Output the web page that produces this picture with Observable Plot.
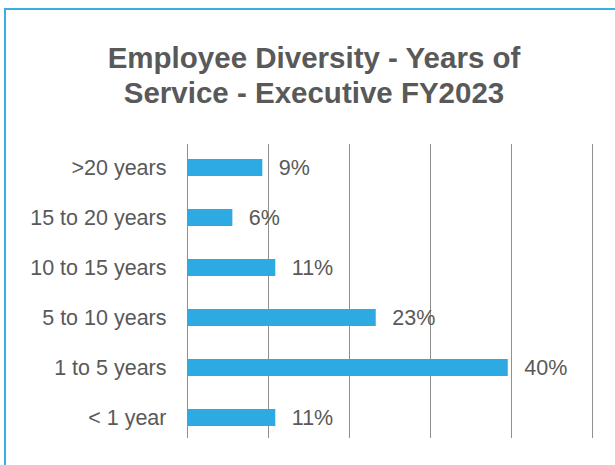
<!DOCTYPE html>
<html>
<head>
<meta charset="utf-8">
<script src="https://cdn.jsdelivr.net/npm/d3@7"></script>
<script src="https://cdn.jsdelivr.net/npm/@observablehq/plot@0.6"></script>
<style>
  html, body { margin: 0; padding: 0; background: #fff; overflow: hidden; }
  body { width: 615px; height: 465px; position: relative; font-family: "Liberation Sans", Arial, sans-serif; }
  #frame { position: absolute; left: 4px; top: 8px; width: 700px; height: 600px; border: 2px solid #3aade2; box-sizing: border-box; }
  #title { position: absolute; left: 0; top: 40px; width: 628px; text-align: center; font-weight: bold; font-size: 29.5px; line-height: 35px; color: #595959; }
  #chart { position: absolute; left: 0; top: 130px; }
</style>
</head>
<body>
<div id="frame"></div>
<div id="title">Employee Diversity - Years of<br>Service - Executive FY2023</div>
<div id="chart"></div>
<script>
const categories = [">20 years", "15 to 20 years", "10 to 15 years", "5 to 10 years", "1 to 5 years", "< 1 year"];
const values = [9.3, 5.6, 10.9, 23.3, 39.6, 10.9];
const gridTicks = [0, 10, 20, 30, 40, 50];

const data = categories.map((c, i) => ({category: c, value: values[i]}));

const chart = Plot.plot({
  width: 615,
  height: 335,
  marginLeft: 187,
  marginRight: 23,
  marginTop: 14,
  marginBottom: 27,
  style: {fontFamily: "Liberation Sans, Arial, sans-serif", background: "transparent"},
  x: {domain: [0, 50], axis: null},
  y: {domain: categories, range: [12, 312], paddingInner: 0.66, paddingOuter: 0.33, label: null},
  marks: [
    Plot.ruleX(gridTicks, {stroke: "#8f8f8f", strokeWidth: 1, strokeOpacity: 1}),
    Plot.barX(data, {x: "value", y: "category", fill: "#2eaae2"}),
    Plot.text(data, {x: "value", y: "category", text: d => `${Math.round(d.value)}%`, textAnchor: "start", dx: 16, fill: "#595959", fontSize: 21.5}),
    Plot.axisY({tickSize: 0, tickPadding: 21, fontSize: 21.5, color: "#595959", label: null})
  ]
});
document.getElementById("chart").appendChild(chart);
</script>
</body>
</html>
